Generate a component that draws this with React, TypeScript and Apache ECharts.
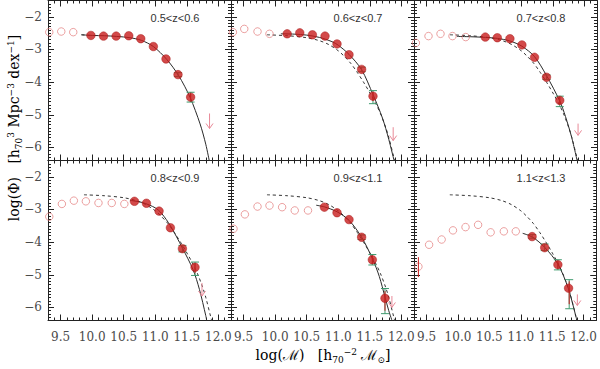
import React, { useEffect, useRef } from "react";
import * as echarts from "echarts";

// ---------- data ----------
const zLabels = ["0.5<z<0.6", "0.6<z<0.7", "0.7<z<0.8", "0.8<z<0.9", "0.9<z<1.1", "1.1<z<1.3"];

const xMajorTicks = [9.5, 10.0, 10.5, 11.0, 11.5, 12.0];
const xMinorTicks = [9.3, 9.4, 9.6, 9.7, 9.8, 9.9, 10.1, 10.2, 10.3, 10.4, 10.6, 10.7, 10.8, 10.9, 11.1, 11.2, 11.3, 11.4, 11.6, 11.7, 11.8, 11.9, 12.1];
const yMajorTicks = [-2, -3, -4, -5, -6];
const yMinorTicks = [-1.6, -1.7, -1.8, -1.9, -2.1, -2.2, -2.3, -2.4, -2.5, -2.6, -2.7, -2.8, -2.9, -3.1, -3.2, -3.3, -3.4, -3.5, -3.6, -3.7, -3.8, -3.9, -4.1, -4.2, -4.3, -4.4, -4.5, -4.6, -4.7, -4.8, -4.9, -5.1, -5.2, -5.3, -5.4, -5.5, -5.6, -5.7, -5.8, -5.9, -6.1, -6.2, -6.3];

// open (incomplete) points
const p1Open = [[9.32, -2.47], [9.51, -2.45], [9.70, -2.47]];
const p2Open = [[9.33, -2.47], [9.51, -2.37], [9.72, -2.45], [9.91, -2.52]];
const p3Open = [[9.33, -2.80], [9.53, -2.59], [9.72, -2.52], [9.91, -2.59], [10.12, -2.62]];
const p4Open = [[9.32, -3.22], [9.52, -2.83], [9.71, -2.73], [9.90, -2.75], [10.10, -2.80], [10.31, -2.80], [10.51, -2.83]];
const p5Open = [[9.34, -3.59], [9.52, -3.15], [9.72, -2.91], [9.91, -2.88], [10.11, -2.93], [10.31, -3.03], [10.52, -3.03]];
const p6Open = [[9.37, -4.75], [9.54, -4.08], [9.74, -3.92], [9.92, -3.64], [10.12, -3.54], [10.32, -3.47], [10.52, -3.70], [10.73, -3.67], [10.92, -3.67]];

// filled (complete) points
const p1Filled = [[9.98, -2.57], [10.18, -2.59], [10.38, -2.59], [10.58, -2.58], [10.77, -2.67], [10.97, -2.91], [11.17, -3.29], [11.36, -3.77], [11.56, -4.46]];
const p2Filled = [[10.19, -2.52], [10.39, -2.49], [10.59, -2.55], [10.79, -2.59], [10.98, -2.83], [11.17, -3.16], [11.37, -3.61], [11.55, -4.43]];
const p3Filled = [[10.43, -2.62], [10.62, -2.64], [10.82, -2.67], [11.01, -2.86], [11.21, -3.24], [11.40, -3.85], [11.61, -4.56]];
const p4Filled = [[10.67, -2.75], [10.86, -2.81], [11.06, -3.05], [11.24, -3.56], [11.43, -4.20], [11.63, -4.77]];
const p5Filled = [[10.78, -2.93], [10.98, -3.10], [11.17, -3.31], [11.37, -3.85], [11.54, -4.54], [11.74, -5.72]];
const p6Filled = [[11.18, -3.83], [11.38, -4.17], [11.59, -4.69], [11.76, -5.41]];

// total error bars [x, low, high]
const p1ErrTot = [[11.36, -3.83, -3.71], [11.56, -4.61, -4.31]];
const p2ErrTot = [[11.37, -3.68, -3.54], [11.55, -4.66, -4.26]];
const p3ErrTot = [[11.40, -3.92, -3.78], [11.61, -4.75, -4.43]];
const p4ErrTot = [[11.43, -4.30, -4.10], [11.63, -5.02, -4.61]];
const p5ErrTot = [[11.37, -3.92, -3.78], [11.54, -4.70, -4.38], [11.74, -6.19, -5.42]];
const p6ErrTot = [[11.18, -3.88, -3.77], [11.38, -4.26, -4.06], [11.59, -4.85, -4.54], [11.77, -6.04, -5.15]];

// statistical error bars [x, low, high]
const p1ErrStat = [[11.56, -4.56, -4.36]];
const p2ErrStat = [[11.55, -4.58, -4.30]];
const p3ErrStat = [[11.61, -4.68, -4.45]];
const p4ErrStat = [[11.63, -4.95, -4.65]];
const p5ErrStat = [[11.54, -4.65, -4.42], [11.74, -6.10, -5.50]];
const p6ErrStat = [[11.59, -4.80, -4.58], [11.77, -5.90, -5.20], [9.37, -5.07, -4.46]];

// upper limits [x, top, bottom]
const p1Limit = [[11.86, -4.96, -5.42]];
const p2Limit = [[11.87, -5.38, -5.79]];
const p3Limit = [[11.90, -5.27, -5.63]];
const p4Limit = [[11.74, -5.25, -5.65]];
const p5Limit = [[11.85, -5.65, -6.00]];
const p6Limit = [[11.90, -5.60, -5.94]];

// Schechter fits
const p1Fit = [[9.83, -2.55], [10.0, -2.57], [10.2, -2.58], [10.39, -2.60], [10.6, -2.64], [10.78, -2.72], [10.97, -2.91], [11.18, -3.30], [11.37, -3.80], [11.55, -4.46], [11.71, -5.28], [11.8, -5.9], [11.86, -6.45]];
const p2Fit = [[10.09, -2.52], [10.3, -2.53], [10.5, -2.56], [10.7, -2.63], [10.9, -2.76], [11.0, -2.87], [11.17, -3.15], [11.37, -3.62], [11.55, -4.38], [11.7, -5.1], [11.8, -5.75], [11.89, -6.45]];
const p3Fit = [[9.98, -2.60], [10.2, -2.61], [10.43, -2.63], [10.62, -2.66], [10.82, -2.74], [11.01, -2.90], [11.21, -3.22], [11.40, -3.80], [11.61, -4.58], [11.7, -5.05], [11.8, -5.7], [11.89, -6.45]];
const p4Fit = [[10.6, -2.72], [10.8, -2.79], [11.0, -2.95], [11.1, -3.12], [11.24, -3.50], [11.43, -4.18], [11.6, -4.85], [11.7, -5.45], [11.8, -6.25], [11.82, -6.45]];
const p5Fit = [[10.65, -2.87], [10.78, -2.92], [10.98, -3.07], [11.17, -3.33], [11.37, -3.85], [11.54, -4.50], [11.65, -5.05], [11.74, -5.68], [11.8, -6.1], [11.86, -6.45]];
const p6Fit = [[11.03, -3.73], [11.19, -3.85], [11.38, -4.16], [11.59, -4.67], [11.75, -5.38], [11.82, -5.85], [11.88, -6.3], [11.9, -6.45]];
// reference fit (lowest redshift bin), dashed in the other panels
const refFit = [[9.87, -2.55], [10.2, -2.58], [10.5, -2.64], [10.7, -2.73], [10.85, -2.85], [11.0, -3.04], [11.09, -3.20], [11.2, -3.43], [11.3, -3.70], [11.4, -4.00], [11.51, -4.36], [11.6, -4.68], [11.67, -4.97], [11.75, -5.38], [11.8, -5.69], [11.88, -6.3], [11.9, -6.45]];
// short dashed lead-in visible in the first panel
const p1RefLead = [[9.83, -2.55], [9.98, -2.57]];

const panels = [
  { open: p1Open, filled: p1Filled, errTot: p1ErrTot, errStat: p1ErrStat, limit: p1Limit, fit: p1Fit, ref: p1RefLead },
  { open: p2Open, filled: p2Filled, errTot: p2ErrTot, errStat: p2ErrStat, limit: p2Limit, fit: p2Fit, ref: refFit },
  { open: p3Open, filled: p3Filled, errTot: p3ErrTot, errStat: p3ErrStat, limit: p3Limit, fit: p3Fit, ref: refFit },
  { open: p4Open, filled: p4Filled, errTot: p4ErrTot, errStat: p4ErrStat, limit: p4Limit, fit: p4Fit, ref: refFit },
  { open: p5Open, filled: p5Filled, errTot: p5ErrTot, errStat: p5ErrStat, limit: p5Limit, fit: p5Fit, ref: refFit },
  { open: p6Open, filled: p6Filled, errTot: p6ErrTot, errStat: p6ErrStat, limit: p6Limit, fit: p6Fit, ref: refFit },
];

// ---------- layout / style ----------
const X_MIN = 9.3;
const X_MAX = 12.2;
const Y_MIN = -6.4;
const Y_MAX = -1.5;
const LEFT = 48;
const PW = 183;
const PH = 160;
const TOP = 0.5;

const AXIS_COLOR = "#222";
const LABEL_FONT = "DejaVu Serif";
const RED = "#c81d1d";
const OPEN_RED = "#e06b6b";
const GREEN = "#3f9a6e";
const PINK = "#e98a98";

function errRender(color: string, cap: number) {
  return (params: any, api: any) => {
    const x = api.value(0);
    const lo = api.coord([x, api.value(1)]);
    const hi = api.coord([x, api.value(2)]);
    const st = { stroke: color, lineWidth: 1 };
    const children: any[] = [
      { type: "line", shape: { x1: lo[0], y1: lo[1], x2: hi[0], y2: hi[1] }, style: st },
    ];
    if (cap > 0) {
      children.push({ type: "line", shape: { x1: lo[0] - cap, y1: lo[1], x2: lo[0] + cap, y2: lo[1] }, style: st });
      children.push({ type: "line", shape: { x1: hi[0] - cap, y1: hi[1], x2: hi[0] + cap, y2: hi[1] }, style: st });
    }
    return { type: "group", children };
  };
}

function arrowRender(params: any, api: any) {
  const x = api.value(0);
  const t = api.coord([x, api.value(1)]);
  const b = api.coord([x, api.value(2)]);
  const st = { stroke: PINK, lineWidth: 1, fill: "none" };
  return {
    type: "group",
    children: [
      { type: "line", shape: { x1: t[0], y1: t[1], x2: b[0], y2: b[1] }, style: st },
      { type: "polyline", shape: { points: [[b[0] - 3.5, b[1] - 5], [b[0], b[1]], [b[0] + 3.5, b[1] - 5]] }, style: st },
    ],
  };
}

function buildOption() {
  const grid: any[] = [];
  const xAxis: any[] = [];
  const yAxis: any[] = [];
  const series: any[] = [];
  const graphic: any[] = [];

  panels.forEach((p, g) => {
    const row = Math.floor(g / 3);
    const col = g % 3;
    const left = LEFT + col * PW;
    const top = TOP + row * PH;
    grid.push({ left, top, width: PW, height: PH, containLabel: false });

    const line = { show: true, onZero: false, lineStyle: { color: AXIS_COLOR, width: 1 } };
    const noLine = { show: false, onZero: false };
    const base = { gridIndex: g, type: "value", min: X_MIN, max: X_MAX, splitLine: { show: false } };
    const xi = xAxis.length;
    xAxis.push({
      ...base, position: "bottom", axisLine: line,
      axisTick: { show: true, inside: true, length: 6, customValues: xMajorTicks, lineStyle: { color: AXIS_COLOR } },
      axisLabel: {
        show: row === 1, customValues: xMajorTicks, margin: 10, color: "#4a4a4a", fontSize: 12,
        fontFamily: LABEL_FONT, formatter: (v: number) => v.toFixed(1),
      },
    });
    xAxis.push({
      ...base, position: "bottom", axisLine: noLine,
      axisTick: { show: true, inside: true, length: 3, customValues: xMinorTicks, lineStyle: { color: AXIS_COLOR } },
      axisLabel: { show: false },
    });
    xAxis.push({
      ...base, position: "top", axisLine: line,
      axisTick: { show: true, inside: true, length: 6, customValues: xMajorTicks, lineStyle: { color: AXIS_COLOR } },
      axisLabel: { show: false },
    });
    xAxis.push({
      ...base, position: "top", axisLine: noLine,
      axisTick: { show: true, inside: true, length: 3, customValues: xMinorTicks, lineStyle: { color: AXIS_COLOR } },
      axisLabel: { show: false },
    });

    const ybase = { gridIndex: g, type: "value", min: Y_MIN, max: Y_MAX, splitLine: { show: false } };
    const yi = yAxis.length;
    yAxis.push({
      ...ybase, position: "left", axisLine: line,
      axisTick: { show: true, inside: true, length: 6, customValues: yMajorTicks, lineStyle: { color: AXIS_COLOR } },
      axisLabel: {
        show: col === 0, customValues: yMajorTicks, margin: 6, color: "#4a4a4a", fontSize: 12,
        fontFamily: LABEL_FONT, formatter: (v: number) => "\u2212" + Math.abs(v).toFixed(0),
      },
    });
    yAxis.push({
      ...ybase, position: "left", axisLine: noLine,
      axisTick: { show: true, inside: true, length: 3, customValues: yMinorTicks, lineStyle: { color: AXIS_COLOR } },
      axisLabel: { show: false },
    });
    yAxis.push({
      ...ybase, position: "right", axisLine: line,
      axisTick: { show: true, inside: true, length: 6, customValues: yMajorTicks, lineStyle: { color: AXIS_COLOR } },
      axisLabel: { show: false },
    });
    yAxis.push({
      ...ybase, position: "right", axisLine: noLine,
      axisTick: { show: true, inside: true, length: 3, customValues: yMinorTicks, lineStyle: { color: AXIS_COLOR } },
      axisLabel: { show: false },
    });

    const ax = { xAxisIndex: xi, yAxisIndex: yi };
    series.push({
      ...ax, type: "line", data: p.ref, smooth: 0.3, symbol: "none", clip: true, z: 2,
      lineStyle: { color: "#333", width: 1, type: [3, 3] },
    });
    series.push({
      ...ax, type: "line", data: p.fit, smooth: 0.3, symbol: "none", clip: true, z: 3,
      lineStyle: { color: "#2a2a2a", width: 1 },
    });
    series.push({ ...ax, type: "custom", data: p.errTot, renderItem: errRender(GREEN, 4), z: 4, clip: true });
    series.push({ ...ax, type: "custom", data: p.errStat, renderItem: errRender(RED, 0), z: 6, clip: false });
    series.push({
      ...ax, type: "scatter", data: p.open, symbol: "circle", symbolSize: 7.5, z: 5, clip: false,
      itemStyle: { color: "rgba(255,255,255,0)", borderColor: OPEN_RED, borderWidth: 0.8 },
    });
    series.push({
      ...ax, type: "scatter", data: p.filled, symbol: "circle", symbolSize: 8.5, z: 5,
      itemStyle: { color: RED, borderColor: "#a51010", borderWidth: 0.6 },
    });
    series.push({ ...ax, type: "custom", data: p.limit, renderItem: arrowRender, z: 7, clip: true });

    graphic.push({
      type: "text", x: left + 127, y: top + 17, z: 20,
      style: {
        text: zLabels[g], fill: "#333", font: '11px "Liberation Sans", Arial, sans-serif',
        textAlign: "center", textVerticalAlign: "middle",
      },
    });
  });

  const titleRich = {
    n: { fontSize: 14, fontFamily: "DejaVu Serif", color: "#444", lineHeight: 22, verticalAlign: "middle" },
    sub: { fontSize: 9, fontFamily: "DejaVu Serif", color: "#444", lineHeight: 22, verticalAlign: "bottom", padding: [0, 0, 2, 0] },
    sup: { fontSize: 9, fontFamily: "DejaVu Serif", color: "#444", lineHeight: 22, verticalAlign: "top", padding: [3, 0, 0, 0] },
  };

  graphic.push({
    type: "text", x: 14, y: 128, rotation: Math.PI / 2, z: 20,
    style: {
      text: "{n|log(\u03A6)   [h}{sub|70}{sup|3}{n| Mpc}{sup|\u22123}{n| dex}{sup|\u22121}{n|]}",
      rich: titleRich,
      align: "center", verticalAlign: "middle",
      textAlign: "center", textVerticalAlign: "middle",
    },
  });
  graphic.push({
    type: "text", x: 323, y: 355, z: 20,
    style: {
      text: "{n|log(\u2133)   [h}{sub|70}{sup|\u22122}{n| \u2133}{sub|\u2299}{n|]}",
      rich: titleRich,
      align: "center", verticalAlign: "middle",
      textAlign: "center", textVerticalAlign: "middle",
    },
  });

  return { animation: false, backgroundColor: "#fff", grid, xAxis, yAxis, series, graphic };
}

export default function App() {
  const ref = useRef<HTMLDivElement>(null);
  useEffect(() => {
    if (!ref.current) return;
    const chart = echarts.init(ref.current, undefined, { renderer: "svg" });
    chart.setOption(buildOption() as any);
    return () => chart.dispose();
  }, []);
  return (
    <div
      ref={ref}
      style={{ position: "absolute", left: 0, top: 0, width: 600, height: 369, background: "#fff" }}
    />
  );
}
